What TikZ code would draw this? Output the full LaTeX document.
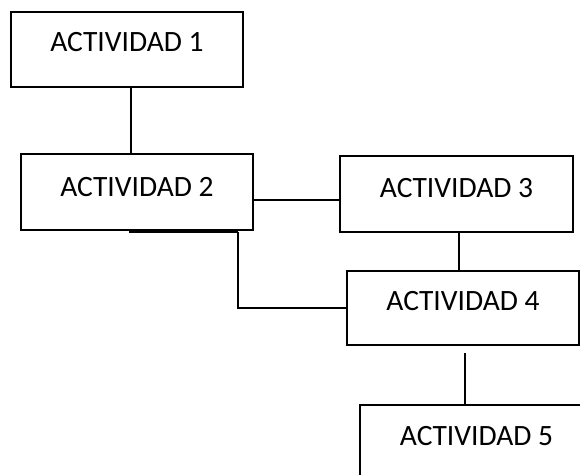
\documentclass[tikz,border=0pt]{standalone}
\usepackage{fontspec}
\setmainfont{Carlito}
\usetikzlibrary{calc}
\begin{document}
\begin{tikzpicture}[x=1pt,y=1pt,
  box/.style={draw=black, line width=2pt, fill=white, inner sep=0pt, minimum width=232pt},
  lbl/.style={font=\fontsize{29.5}{31}\selectfont, inner sep=0pt, anchor=center},
  conn/.style={draw=black, line width=2pt}]
\useasboundingbox (0,0) rectangle (580,474);
\clip (0,0) rectangle (580,474);
% boxes (y = 474 - image y)
\node[box, minimum height=75pt] (a1) at (127,424.5) {};
\node[box, minimum height=76pt] (a2) at (137,282) {};
\node[box, minimum height=76pt, minimum width=233pt] (a3) at (456.5,280) {};
\node[box, minimum height=74pt] (a4) at (463,166) {};
\node[box, minimum height=76pt, minimum width=233pt] (a5) at (476.5,31) {};
% labels
\node[lbl] (t1) at ($(a1.north)+(0,-31)$) {ACTIVIDAD 1};
\node[lbl] (t2) at ($(a2.north)+(0,-34)$) {ACTIVIDAD 2};
\node[lbl] (t3) at ($(a3.north)+(0,-33)$) {ACTIVIDAD 3};
\node[lbl] (t4) at ($(a4.north)+(0,-31)$) {ACTIVIDAD 4};
\node[lbl] (t5) at ($(a5.north)+(0,-32)$) {ACTIVIDAD 5};
% connectors
\coordinate (c12) at (131,0);
\draw[conn] (a1.south -| c12) -- (a2.north -| c12);
\coordinate (c23) at (0,274);
\draw[conn] (a2.east |- c23) -- (a3.west |- c23);
\coordinate (c34) at (459,0);
\draw[conn] (a3.south -| c34) -- (a4.north -| c34);
\coordinate (c24) at (238,242);
\coordinate (c24s) at (129,242);
\draw[draw=black, line width=3pt] (c24s) -- (c24);
\draw[conn] (c24) |- (a4.west);
\coordinate (c45a) at (465,121);
\draw[conn] (c45a) -- (a5.north -| c45a);
\end{tikzpicture}
\end{document}
